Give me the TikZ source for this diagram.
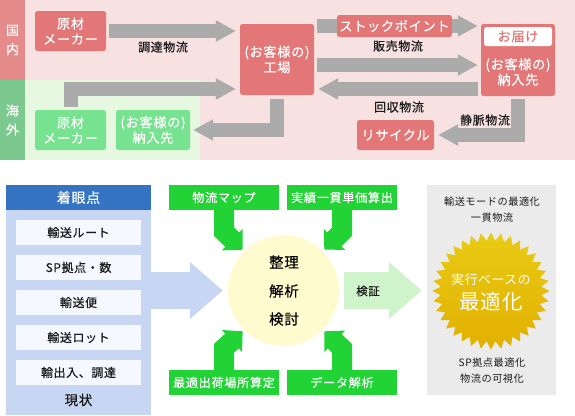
\documentclass[tikz,border=0pt]{standalone}
\usepackage{fontspec}
\setmainfont[LetterSpace=5]{Noto Sans CJK JP}
\newfontfamily\heavyfont[LetterSpace=5,FakeBold=0.35]{Noto Sans CJK JP}
\usetikzlibrary{positioning,arrows.meta,shapes.geometric}

\definecolor{pinkback}{HTML}{F7E1E1}
\definecolor{greenback}{HTML}{E6F8DF}
\definecolor{pinkband}{HTML}{E58B8B}
\definecolor{greenband}{HTML}{7CC98F}
\definecolor{redbox}{HTML}{E37777}
\definecolor{lightgreenbox}{HTML}{77E28F}
\definecolor{flowgray}{HTML}{ABABAB}
\definecolor{headblue}{HTML}{3573C3}
\definecolor{paleblue}{HTML}{C7D6F2}
\definecolor{itemblue}{HTML}{F5F8FE}
\definecolor{solidgreen}{HTML}{21D335}
\definecolor{palegreen}{HTML}{CFF3CB}
\definecolor{paleyellow}{HTML}{FFFBCF}
\definecolor{panelgray}{HTML}{EBEBEB}
\definecolor{inktext}{HTML}{1A1A1A}
\definecolor{sealtop}{HTML}{E8CB14}
\definecolor{sealbottom}{HTML}{E2B000}

\begin{document}
\begin{tikzpicture}[
    x=1pt, y=-1pt,
    % Define box styles
    band/.style={inner sep=0pt, align=center, text=white, font=\heavyfont\fontsize{13}{19}\selectfont, minimum width=25pt, minimum height=80pt},
    flowbox/.style={inner sep=0pt, rounded corners=2.5pt, align=center, text=white, font=\heavyfont\fontsize{13.2}{15.5}\selectfont},
    redflow/.style={flowbox, fill=redbox},
    greenflow/.style={flowbox, fill=lightgreenbox},
    tag/.style={inner sep=0pt, text=inktext, font=\heavyfont\fontsize{12}{14}\selectfont},
    item/.style={inner sep=0pt, fill=itemblue, text=inktext, minimum width=125pt, minimum height=25pt, font=\heavyfont\fontsize{12}{14}\selectfont},
    task/.style={inner sep=0pt, fill=solidgreen, text=white, minimum width=110pt, minimum height=25pt, font=\heavyfont\fontsize{12.2}{14}\selectfont},
    note/.style={inner sep=0pt, text=inktext, font=\fontsize{10.2}{12}\selectfont},
    core/.style={inner sep=0pt, text=black, font=\heavyfont\fontsize{14.5}{17}\selectfont},
    % Define connector styles
    flow/.style={draw=flowgray, line width=14pt, line join=miter},
    flowhead/.style={flow, -{Triangle[length=20pt,width=20pt]}},
    bigarrow/.style={line width=37pt, -{Triangle[length=33pt,width=55pt]}, shorten >=5pt},
    bendarrow/.style={draw=solidgreen, line width=20pt, line join=miter, -{Triangle[length=14.5pt,width=29pt]}, shorten >=2pt}
]

\useasboundingbox (0,0) rectangle (575,415);

% Backgrounds of the upper chart
\fill[pinkback] (25,0) rectangle (575,160);
\fill[greenback] (25,80) rectangle (200,160);
\node[band, fill=pinkband] (domestic) at (12.5,40) {国\\内};
\node[band, fill=greenband] (overseas) at (12.5,120) {海\\外};

% Boxes of the upper chart
\node[redflow, minimum width=71pt, minimum height=40pt] (maker) at (70.5,31) {原材\\メーカー};
\node[redflow, minimum width=74pt, minimum height=71pt] (factory) at (277,59.5) {(お客様の)\\工場};
\node[greenflow, minimum width=71pt, minimum height=40pt] (seamaker) at (70.5,130) {原材\\メーカー};
\node[greenflow, minimum width=74pt, minimum height=40pt] (seacustomer) at (153,130) {(お客様の)\\納入先};
\node[redflow, minimum width=115pt, minimum height=22pt] (stock) at (394.5,26) {ストックポイント};
\node[redflow, minimum width=74pt, minimum height=72pt] (delivery) at (518,60) {};
\node[flowbox, fill=white, text=redbox, minimum width=68pt, minimum height=19pt] (deliverytag) at (518,36.5) {お届け};
\node[flowbox] (deliverytext) at (518,72) {(お客様の)\\納入先};
\node[redflow, minimum width=77pt, minimum height=30pt] (recycle) at (395.5,135) {リサイクル};

% Grey flows
\draw[flowhead, shorten <=3pt, shorten >=4pt] (maker.east) -- (maker.east -| factory.west);
\draw[flowhead, shorten <=3pt, shorten >=4pt] (seamaker.north) |- (factory.west |- 0,89);
\draw[flowhead, shorten <=4pt, shorten >=3pt] (factory.south) |- (seacustomer.east);
\draw[flow, shorten <=3pt] (factory.east |- stock) -- (stock.west);
\draw[flowhead, shorten >=3pt] (stock.east) -- (delivery.west |- stock);
\draw[flowhead, shorten <=3pt, shorten >=3pt] (factory.east |- 0,65) -- (delivery.west |- 0,65);
\draw[flowhead, shorten <=3pt, shorten >=4pt] (delivery.west |- 0,89) -- (factory.east |- 0,89);
\draw[flowhead, shorten <=3pt, shorten >=4pt] (delivery.south) |- (recycle.east);

% Flow labels
\node[tag] (inbound) at (163,47) {調達物流};
\node[tag] (sales) at (398,46) {販売物流};
\node[tag] (returns) at (399,107) {回収物流};
\node[tag] (venous) at (485,120) {静脈物流};

% Left panel of the lower chart
\node[inner sep=0pt, fill=paleblue, minimum width=145pt, minimum height=205pt] (base) at (78.5,312.5) {};
\node[inner sep=0pt, fill=headblue, text=white, minimum width=145pt, minimum height=25pt, font=\heavyfont\fontsize{14}{16}\selectfont] (focus) at (78.5,197.5) {着眼点};
\foreach \name/\ypos/\txt in {route/232.5/輸送ルート, point/267.5/SP拠点・数, lot/302.5/輸送便, batch/337.5/輸送ロット, trade/372.5/輸出入、調達} {
    \node[item] (\name) at (78.5,\ypos) {\txt};
}
\node[inner sep=0pt, text=inktext, font=\heavyfont\fontsize{13.5}{15}\selectfont] (current) at (78.5,400) {現状};

% Centre circle
\node[circle, inner sep=0pt, fill=paleyellow, minimum size=111pt] (solve) at (283.5,290.5) {};
\node[core] (sort) at (284,262) {整理};
\node[core] (analyse) at (284,291) {解析};
\node[core] (review) at (284,319) {検討};

% Green boxes round the circle
\node[task] (map) at (224,197.5) {物流マップ};
\node[task] (cost) at (342,197.5) {実績一貫単価算出};
\node[task] (site) at (224,382.5) {最適出荷場所算定};
\node[task] (data) at (342,382.5) {データ解析};

% Bent arrows into the circle
\draw[bendarrow] (map.south) -- ++(0,21.5) -- (solve.135);
\draw[bendarrow] (cost.south) -- ++(0,21.5) -- (solve.45);
\draw[bendarrow] (site.north) -- ++(0,-21.5) -- (solve.225);
\draw[bendarrow] (data.north) -- ++(0,-21.5) -- (solve.315);

% Right panel
\node[inner sep=0pt, fill=panelgray, minimum width=129pt, minimum height=210pt] (goal) at (491.5,290) {};
\node[note] (modes) at (492,202) {輸送モードの最適化};
\node[note] (through) at (492,218) {一貫物流};
\node[note] (spbest) at (492,363) {SP拠点最適化};
\node[note] (visible) at (492,379) {物流の可視化};

% Seal
\node[star, star points=36, star point ratio=1.16, inner sep=0pt, minimum size=117pt, top color=sealtop, bottom color=sealbottom] (seal) at (491,291) {};
\node[inner sep=0pt, text=white, font=\fontsize{12.8}{16}\selectfont] (actual) at (491,280) {実行ベースの};
\node[inner sep=0pt, text=white, font=\fontsize{20.5}{24}\selectfont] (best) at (491,302) {最適化};

% Large arrows
\draw[bigarrow, draw=paleblue] (base.east |- solve) -- (solve.west);
\draw[bigarrow, draw=palegreen, shorten <=5pt] (solve.east) -- (goal.west |- solve);
\node[inner sep=0pt, text=inktext, font=\heavyfont\fontsize{11.5}{13}\selectfont] (verify) at (368,291) {検証};

\end{tikzpicture}
\end{document}
